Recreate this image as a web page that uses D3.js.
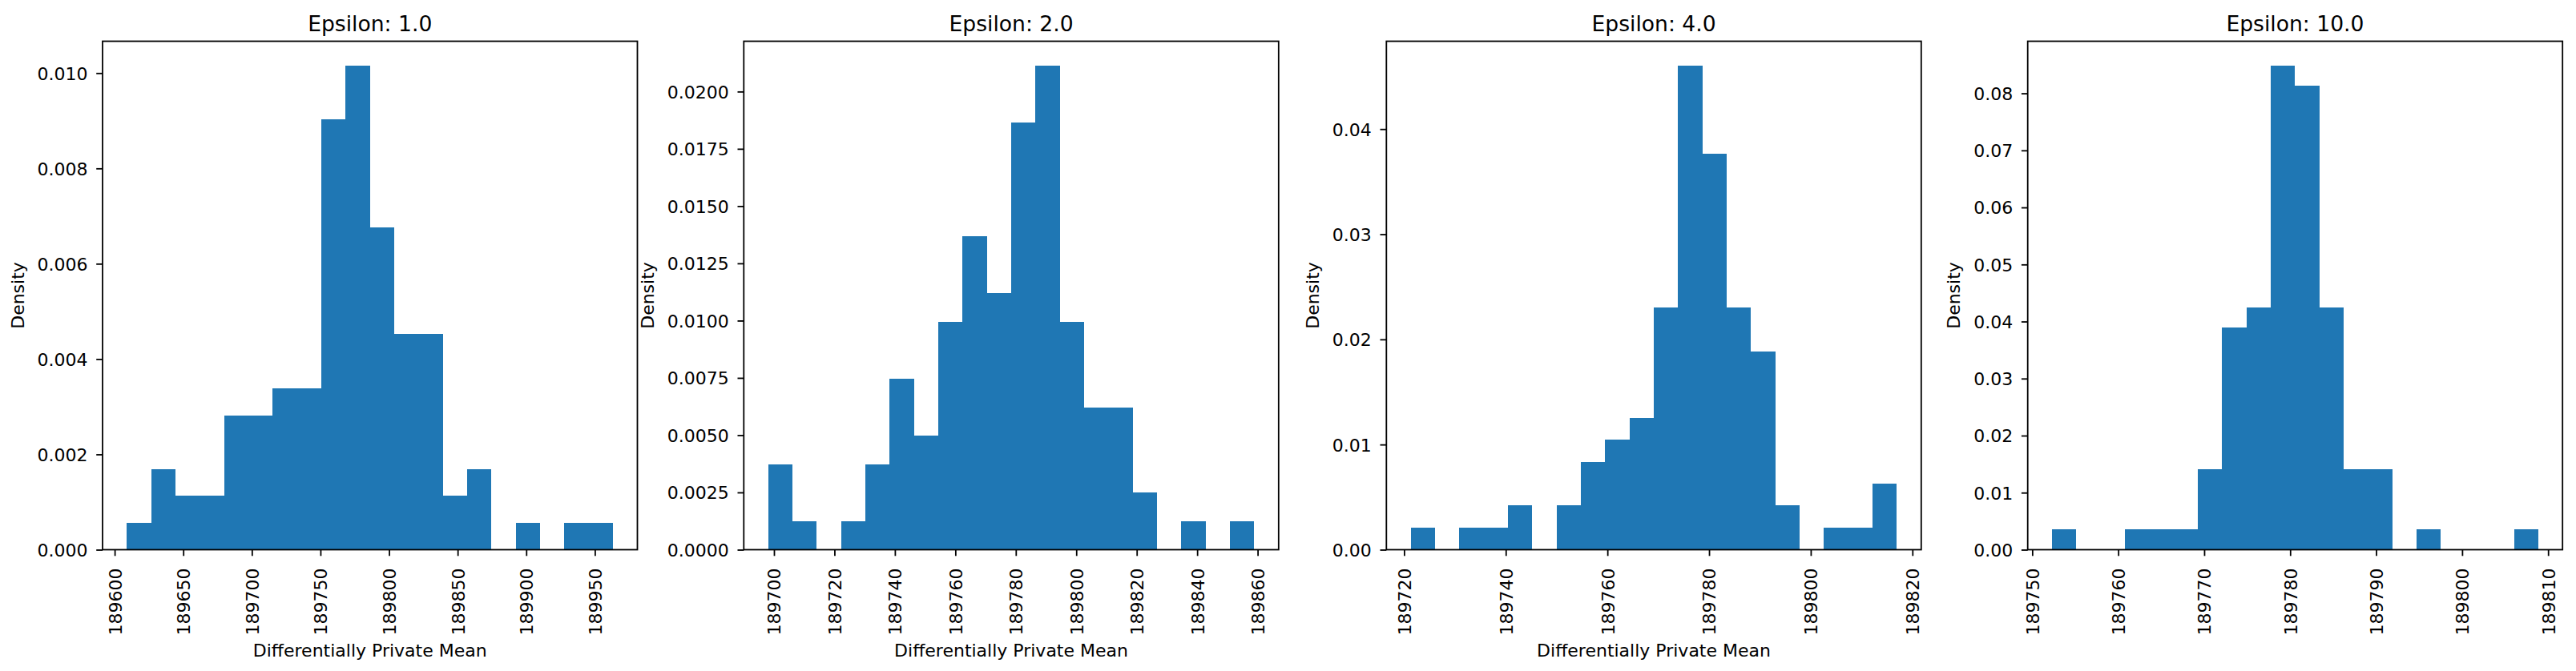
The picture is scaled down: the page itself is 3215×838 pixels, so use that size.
<!DOCTYPE html>
<html>
<head>
<meta charset="utf-8">
<script src="https://cdn.jsdelivr.net/npm/d3@7"></script>
<style>
  html, body { margin: 0; padding: 0; background: #ffffff; }
  svg { display: block; }
  text { font-family: "DejaVu Sans", sans-serif; fill: #000000; }
</style>
</head>
<body>
<div id="chart"></div>
<script>
/*****************************************************
 * DATA
 *****************************************************/
const epsilons = ["1.0", "2.0", "4.0", "10.0"];

// first and last bin edge of each histogram (20 bins each)
const binLo = [189608.9, 189698.05, 189721.3, 189752.3];
const binHi = [189963.3, 189858.9, 189816.95, 189808.85];

const density1 = [0.00056, 0.00169, 0.00113, 0.00113, 0.00282, 0.00282, 0.00339, 0.00339, 0.00903, 0.01016,
                  0.00677, 0.00452, 0.00452, 0.00113, 0.00169, 0, 0.00056, 0, 0.00056, 0.00056];
const density2 = [0.00373, 0.00124, 0, 0.00124, 0.00373, 0.00746, 0.00497, 0.00995, 0.01368, 0.01119,
                  0.01865, 0.02114, 0.00995, 0.00622, 0.00622, 0.00249, 0, 0.00124, 0, 0.00124];
const density3 = [0.00209, 0, 0.00209, 0.00209, 0.00419, 0, 0.00419, 0.00837, 0.01047, 0.01256,
                  0.02302, 0.04605, 0.03768, 0.02302, 0.01884, 0.00419, 0, 0.00209, 0.00209, 0.00628];
const density4 = [0.00354, 0, 0, 0.00354, 0.00354, 0.00354, 0.01415, 0.03891, 0.04245, 0.08489,
                  0.08136, 0.04245, 0.01415, 0.01415, 0, 0.00354, 0, 0, 0, 0.00354];

const xTicks1 = [189600, 189650, 189700, 189750, 189800, 189850, 189900, 189950];
const xTicks2 = [189700, 189720, 189740, 189760, 189780, 189800, 189820, 189840, 189860];
const xTicks3 = [189720, 189740, 189760, 189780, 189800, 189820];
const xTicks4 = [189750, 189760, 189770, 189780, 189790, 189800, 189810];

const yTicks1 = ["0.000", "0.002", "0.004", "0.006", "0.008", "0.010"];
const yTicks2 = ["0.0000", "0.0025", "0.0050", "0.0075", "0.0100", "0.0125", "0.0150", "0.0175", "0.0200"];
const yTicks3 = ["0.00", "0.01", "0.02", "0.03", "0.04"];
const yTicks4 = ["0.00", "0.01", "0.02", "0.03", "0.04", "0.05", "0.06", "0.07", "0.08"];

const xLabels = ["Differentially Private Mean", "Differentially Private Mean", "Differentially Private Mean", ""];

const densities = [density1, density2, density3, density4];
const xTicks = [xTicks1, xTicks2, xTicks3, xTicks4];
const yTicks = [yTicks1, yTicks2, yTicks3, yTicks4];

/*****************************************************
 * LAYOUT
 *****************************************************/
const width = 3215;
const height = 838;

const panelLeft = [128, 928.3, 1730.3, 2530.7];
const panelWidth = 667.5;
const axTop = 51.5;
const axBottom = 686.5;

const tickLen = 7.8;
const fontSize = 22;
const titleSize = 26.6;
const barColor = "#1f77b4";

const svg = d3.select("#chart")
  .append("svg")
  .attr("width", width)
  .attr("height", height);

epsilons.forEach((eps, p) => {

  const left = panelLeft[p];
  const right = left + panelWidth;
  const lo = binLo[p];
  const hi = binHi[p];
  const vals = densities[p];
  const n = vals.length;
  const step = (hi - lo) / n;
  const pad = (hi - lo) * 0.05;

  const x = d3.scaleLinear()
    .domain([lo - pad, hi + pad])
    .range([left, right]);

  const y = d3.scaleLinear()
    .domain([0, d3.max(vals) * 1.05])
    .range([axBottom, axTop]);

  const g = svg.append("g");

  /*****************************************************
   * BARS
   *****************************************************/
  const bins = vals.map((v, i) => ({ x0: lo + i * step, x1: lo + (i + 1) * step, v: v }));

  g.selectAll("rect.bar")
    .data(bins.filter(d => d.v > 0))
    .enter()
    .append("rect")
    .attr("class", "bar")
    .attr("x", d => x(d.x0))
    .attr("width", d => x(d.x1) - x(d.x0))
    .attr("y", d => y(d.v))
    .attr("height", d => y(0) - y(d.v))
    .attr("fill", barColor)
    .attr("shape-rendering", "crispEdges");

  /*****************************************************
   * X AXIS
   *****************************************************/
  const xAxis = g.append("g")
    .attr("transform", `translate(0,${axBottom})`)
    .call(d3.axisBottom(x)
      .tickValues(xTicks[p])
      .tickSize(tickLen)
      .tickSizeOuter(0)
      .tickFormat(d3.format("d")));

  xAxis.select(".domain").remove();
  xAxis.selectAll(".tick line")
    .attr("stroke", "#000")
    .attr("stroke-width", 1.8);
  xAxis.selectAll(".tick text")
    .attr("font-size", fontSize)
    .attr("font-family", "DejaVu Sans")
    .attr("fill", "#000")
    .attr("text-anchor", "end")
    .attr("transform", "translate(0,23) rotate(-90)")
    .attr("x", 0)
    .attr("y", 0)
    .attr("dy", "0.36em");

  /*****************************************************
   * Y AXIS
   *****************************************************/
  const yAxis = g.append("g")
    .attr("transform", `translate(${left},0)`)
    .call(d3.axisLeft(y)
      .tickValues(yTicks[p].map(Number))
      .tickSize(tickLen)
      .tickSizeOuter(0)
      .tickFormat((d, i) => yTicks[p][i]));

  yAxis.select(".domain").remove();
  yAxis.selectAll(".tick line")
    .attr("stroke", "#000")
    .attr("stroke-width", 1.8);
  yAxis.selectAll(".tick text")
    .attr("font-size", fontSize)
    .attr("font-family", "DejaVu Sans")
    .attr("fill", "#000")
    .attr("x", -18.5)
    .attr("dy", "0.36em");

  // widest y tick label decides where "Density" goes
  let minX = Infinity;
  yAxis.selectAll(".tick text").each(function () {
    const w = this.getComputedTextLength();
    minX = Math.min(minX, left - 18.5 - w);
  });

  /*****************************************************
   * FRAME
   *****************************************************/
  g.append("rect")
    .attr("x", left)
    .attr("y", axTop)
    .attr("width", panelWidth)
    .attr("height", axBottom - axTop)
    .attr("fill", "none")
    .attr("stroke", "#000")
    .attr("stroke-width", 1.8);

  /*****************************************************
   * TEXTS
   *****************************************************/
  g.append("text")
    .attr("x", (left + right) / 2)
    .attr("y", 38.5)
    .attr("text-anchor", "middle")
    .attr("font-size", titleSize)
    .text("Epsilon: " + eps);

  if (xLabels[p]) {
    g.append("text")
      .attr("x", (left + right) / 2)
      .attr("y", 820)
      .attr("text-anchor", "middle")
      .attr("font-size", fontSize)
      .text(xLabels[p]);
  }

  g.append("text")
    .attr("transform", `translate(${minX - 17},${(axTop + axBottom) / 2}) rotate(-90)`)
    .attr("text-anchor", "middle")
    .attr("font-size", fontSize)
    .text("Density");
});
</script>
</body>
</html>
